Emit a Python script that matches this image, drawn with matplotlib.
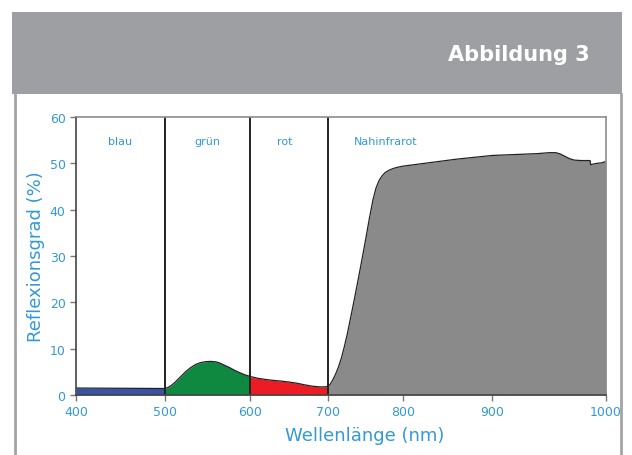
import numpy as np
import matplotlib
matplotlib.use("Agg")
import matplotlib.pyplot as plt
from matplotlib.patches import Rectangle
from matplotlib.lines import Line2D

# ---------------- Daten ----------------
wl_blau = [400, 450, 500]
r_blau = [1.5, 1.45, 1.4]

wl_gruen = [500, 503, 507, 512, 518, 524, 530, 536, 542, 548, 554, 560, 565,
            570, 576, 582, 588, 594, 600]
r_gruen = [1.4, 1.6, 2.0, 2.8, 3.9, 5.0, 5.9, 6.6, 7.0, 7.2, 7.25, 7.15, 6.85,
           6.4, 5.9, 5.3, 4.8, 4.35, 4.0]

wl_rot = [600, 610, 620, 630, 640, 650, 660, 670, 680, 690, 696, 700]
r_rot = [3.9, 3.6, 3.35, 3.15, 3.0, 2.8, 2.55, 2.2, 1.9, 1.75, 1.75, 1.85]

wl_nir = [700, 703, 706, 710, 714, 718, 722, 726, 730, 735, 740, 745, 750,
          755, 760, 764, 768, 772, 776, 781, 787, 794, 800, 820, 840, 860, 880,
          900, 920, 940, 950, 956, 960, 964, 968, 972, 978, 985, 986, 986.5,
          988, 992, 996, 1000]
r_nir = [1.85, 2.3, 3.1, 4.4, 6.0, 8.0, 10.5, 13.3, 16.5, 20.5, 24.7, 29.0, 33.4,
         38.0, 42.2, 44.7, 46.3, 47.3, 48.0, 48.5, 48.9, 49.2, 49.4, 49.9, 50.4,
         50.9, 51.3, 51.7, 51.9, 52.1, 52.3, 52.3, 52.0, 51.5, 51.0, 50.7, 50.6,
         50.6, 50.6, 49.7, 49.8, 50.0, 50.1, 50.4]

baender = ["blau", "grün", "rot", "Nahinfrarot"]
grenzen = [500, 600, 700]
x_ticks = [400, 500, 600, 700, 800, 900, 1000]
y_ticks = [0, 10, 20, 30, 40, 50, 60]

# ---------------- Layout ----------------
W, H = 632, 456
blau_txt = '#3399d6'
# ungleichmaessige x-Achse wie im Original
tick_px = [76, 165, 250, 327.7, 403, 492, 605.7]

def fwd(x):
    return np.interp(x, x_ticks, tick_px)

def inv(p):
    return np.interp(p, tick_px, x_ticks)

fig = plt.figure(figsize=(W / 100, H / 100), dpi=100)
fig.patch.set_facecolor('white')

# Kopfbalken + Rahmen
fig.add_artist(Rectangle((12 / W, 1 - 95 / H), 610 / W, 82 / H, transform=fig.transFigure,
                         facecolor='#9e9fa3', edgecolor='none'))
fig.add_artist(Line2D([15 / W, 15 / W], [0, 1 - 95 / H], transform=fig.transFigure,
                      color='#a3a4a7', lw=2))
fig.add_artist(Line2D([621 / W, 621 / W], [0, 1 - 95 / H], transform=fig.transFigure,
                      color='#a3a4a7', lw=2))
fig.text(590 / W, 1 - 55 / H, 'Abbildung 3', ha='right', va='center', color='white',
         fontsize=15, fontweight='bold')

ax = fig.add_axes([76 / W, 1 - 396 / H, 530 / W, 278 / H])
ax.set_xscale('function', functions=(fwd, inv))
ax.set_xlim(400, 1000)
ax.set_ylim(0, 60)

ax.fill_between(wl_blau, r_blau, color='#3a53a4', lw=0)
ax.fill_between(wl_gruen, r_gruen, color='#0f893f', lw=0)
ax.fill_between(wl_rot, r_rot, color='#ec1c24', lw=0)
ax.fill_between(wl_nir, r_nir, color='#8a8a8a', lw=0)

wl_all = wl_blau + wl_gruen[1:] + wl_rot[1:] + wl_nir[1:]
r_all = r_blau + r_gruen[1:] + r_rot[1:] + r_nir[1:]
ax.plot(wl_all, r_all, color='#222222', lw=0.9)

for g in grenzen:
    ax.plot([g, g], [0, 60], color='#222222', lw=1.4)

label_x = [450, 550, 645, 735]
for lx, name in zip(label_x, baender):
    ax.text(lx, 54.8, name, ha='center' if name != 'Nahinfrarot' else 'left',
            va='center', color=blau_txt, fontsize=8)

ax.set_xticks(x_ticks)
ax.set_yticks(y_ticks)
ax.tick_params(colors='#777777', labelcolor=blau_txt, labelsize=9, length=4, width=1)
for s in ['top', 'right']:
    ax.spines[s].set_color('#8c8c8c')
for s in ['left', 'bottom']:
    ax.spines[s].set_color('#444444')
for s in ax.spines.values():
    s.set_linewidth(1.2)

ax.set_xlabel('Wellenlänge (nm)', color=blau_txt, fontsize=13, va='center')
ax.xaxis.set_label_coords(0.545, -0.144)
ax.set_ylabel('Reflexionsgrad (%)', color=blau_txt, fontsize=13, va='center')
ax.yaxis.set_label_coords(-0.075, 0.5)

fig.savefig('out.png', dpi=100)
